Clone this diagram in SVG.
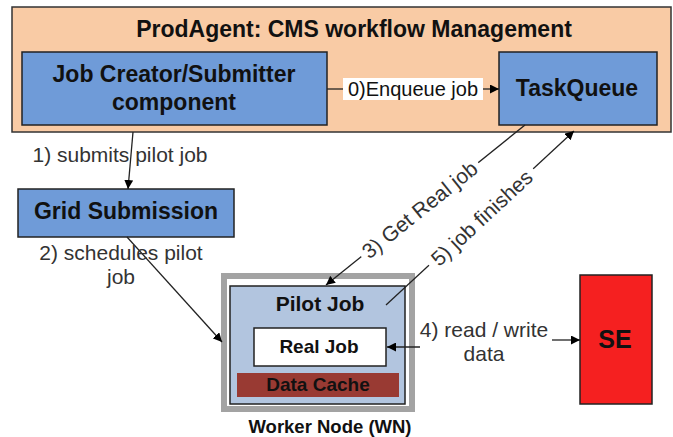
<svg xmlns="http://www.w3.org/2000/svg" width="673" height="437" viewBox="0 0 673 437">
<defs>
<marker id="ah" viewBox="0 0 10 10" refX="10" refY="5" markerWidth="9" markerHeight="9" markerUnits="userSpaceOnUse" orient="auto">
<path d="M0,0 L10,5 L0,10 z" fill="#000"/>
</marker>
</defs>
<style>
text{font-family:"Liberation Sans",Arial,sans-serif}
.b{font-weight:bold;fill:#111}
.lbl{font-size:21px;fill:#333}
.box{fill:#6f9bd8;stroke:#222;stroke-width:1.5}
.ln{stroke:#222;stroke-width:1.3;fill:none}
.arr{stroke:#222;stroke-width:1.3;fill:none;marker-end:url(#ah)}
</style>
<rect width="673" height="437" fill="#fff"/>
<g id="prodagent">
<rect x="12" y="7" width="659" height="125" fill="#f9cba5" stroke="#333" stroke-width="1.5"/>
<text class="b" x="354" y="37" font-size="23" text-anchor="middle">ProdAgent: CMS workflow Management</text>
</g>
<g id="jobcreator">
<rect class="box" x="22" y="52" width="305" height="73"/>
<text class="b" x="174" y="82" font-size="23" text-anchor="middle">Job Creator/Submitter</text>
<text class="b" x="174" y="110" font-size="23" text-anchor="middle">component</text>
</g>
<g id="taskqueue">
<rect class="box" x="499" y="52" width="158" height="73"/>
<text class="b" x="577" y="96" font-size="23" text-anchor="middle">TaskQueue</text>
</g>
<g id="grid">
<rect class="box" x="18" y="189" width="216" height="48"/>
<text class="b" x="126" y="219" font-size="23" text-anchor="middle">Grid Submission</text>
</g>
<g id="workernode">
<rect x="224" y="276" width="188" height="133" fill="#fff" stroke="#a3a3a3" stroke-width="6"/>
<text class="b" x="330" y="433" font-size="18.5" text-anchor="middle">Worker Node (WN)</text>
</g>
<g id="pilotjob">
<rect x="230" y="286" width="175" height="118" fill="#b2c5df" stroke="#222" stroke-width="1.5"/>
<text class="b" x="320" y="311" font-size="21" text-anchor="middle">Pilot Job</text>
</g>
<g id="realjob">
<rect x="254" y="328" width="132" height="38" fill="#fff" stroke="#222" stroke-width="1.5"/>
<text class="b" x="319" y="353" font-size="19" text-anchor="middle">Real Job</text>
</g>
<g id="datacache">
<rect x="237" y="373" width="162" height="24" fill="#993a33"/>
<text class="b" x="318" y="391" font-size="19" text-anchor="middle">Data Cache</text>
</g>
<g id="se">
<rect x="580" y="275" width="72" height="129" fill="#f52020" stroke="#222" stroke-width="1.5"/>
<text class="b" x="615" y="348" font-size="25" text-anchor="middle">SE</text>
</g>
<g id="connectors">
<line class="ln" x1="327" y1="89" x2="343" y2="89"/>
<line class="arr" x1="483" y1="89" x2="499" y2="89"/>
<rect x="343" y="78" width="140" height="22" fill="#fff"/>
<text class="lbl" x="413" y="96" text-anchor="middle" style="fill:#111;font-size:20px">0)Enqueue job</text>

<line class="arr" x1="133" y1="132" x2="128" y2="189"/>
<text class="lbl" x="120" y="162" text-anchor="middle">1) submits pilot job</text>

<line class="arr" x1="127" y1="237" x2="222" y2="342"/>
<text class="lbl" x="121" y="260" text-anchor="middle">2) schedules pilot</text>
<text class="lbl" x="121" y="284" text-anchor="middle">job</text>

<line class="arr" x1="525" y1="125" x2="326" y2="285"/>
<g transform="translate(420,210) rotate(-38.8)">
<rect x="-75" y="-13" width="150" height="25" fill="#fff"/>
<text class="lbl" x="0" y="7" text-anchor="middle">3) Get Real job</text>
</g>

<line class="arr" x1="386" y1="305" x2="574" y2="131"/>
<g transform="translate(482,218) rotate(-42.8)">
<rect x="-71" y="-13" width="142" height="25" fill="#fff"/>
<text class="lbl" x="0" y="7" text-anchor="middle">5) job finishes</text>
</g>

<line class="arr" x1="420" y1="347" x2="387" y2="347"/>
<line class="arr" x1="552" y1="340" x2="580" y2="340"/>
<text class="lbl" x="484" y="337" text-anchor="middle">4) read / write</text>
<text class="lbl" x="484" y="361" text-anchor="middle">data</text>
</g>
</svg>
